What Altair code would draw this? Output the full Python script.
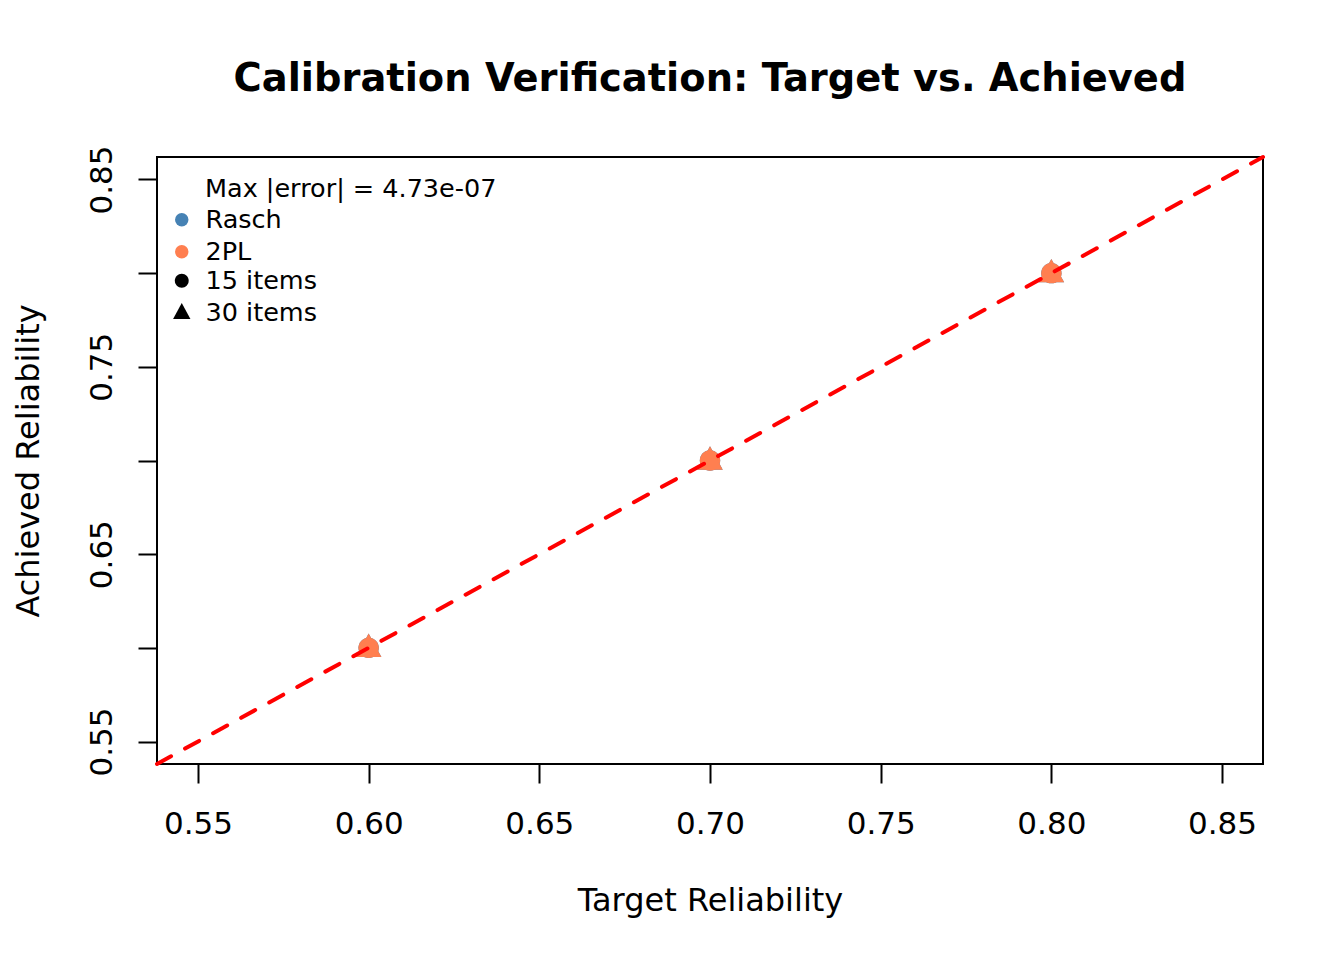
import altair as alt
import pandas as pd

# ---- data ----
model = ["Rasch", "Rasch", "Rasch", "Rasch", "Rasch", "Rasch",
         "2PL", "2PL", "2PL", "2PL", "2PL", "2PL"]
items = ["15 items", "15 items", "15 items", "30 items", "30 items", "30 items",
         "15 items", "15 items", "15 items", "30 items", "30 items", "30 items"]
target = [0.60, 0.70, 0.80, 0.60, 0.70, 0.80,
          0.60, 0.70, 0.80, 0.60, 0.70, 0.80]
achieved = [0.60, 0.70, 0.80, 0.60, 0.70, 0.80,
            0.60, 0.70, 0.80, 0.60, 0.70, 0.80]
order = list(range(len(model)))

model_levels = ["Rasch", "2PL"]
model_colors = ["#4682B4", "#FF7F50"]
item_levels = ["15 items", "30 items"]
# R-like pch 16 (filled circle) and pch 17 (filled triangle), as unit symbol paths
CIRCLE = "M-0.8,0A0.8,0.8 0 1,0 0.8,0A0.8,0.8 0 1,0 -0.8,0Z"
TRIANGLE = "M0,-1.12L1,0.72L-1,0.72Z"
item_shapes = [CIRCLE, TRIANGLE]

axis_domain = [0.538, 0.862]
tick_vals = [0.55, 0.60, 0.65, 0.70, 0.75, 0.80, 0.85]
max_error = 4.73e-07

title_text = "Calibration Verification: Target vs. Achieved"
x_title = "Target Reliability"
y_title = "Achieved Reliability"

df = pd.DataFrame({"model": model, "items": items, "target": target,
                   "achieved": achieved, "order": order})
diag = pd.DataFrame({"x": axis_domain, "y": axis_domain})

FONT = "DejaVu Sans"
W, H = 1106, 607

xscale = alt.Scale(domain=axis_domain, nice=False, zero=False)
yscale = alt.Scale(domain=axis_domain, nice=False, zero=False)

xaxis = alt.Axis(values=tick_vals, format=".2f", title=x_title, grid=False, domain=False,
                 tickSize=19, tickWidth=2, tickColor="black",
                 labelFontSize=31, labelFont=FONT, labelColor="black",
                 labelBaseline="alphabetic", labelPadding=50, labelFlush=False,
                 titleFontSize=32, titleFont=FONT, titleFontWeight="normal", titleColor="black",
                 titleBaseline="alphabetic", titleY=146, titleX=W / 2)
yaxis = alt.Axis(values=tick_vals, format=".2f", title=y_title, grid=False, domain=False,
                 tickSize=19, tickWidth=2, tickColor="black",
                 labelFontSize=31, labelFont=FONT, labelColor="black",
                 labelAngle=270, labelAlign="center", labelBaseline="alphabetic",
                 labelPadding=27, labelFlush=False,
                 labelExpr="(round(datum.value*100) % 10 == 5) ? datum.label : ''",
                 titleFontSize=32, titleFont=FONT, titleFontWeight="normal", titleColor="black",
                 titleAngle=270, titleBaseline="alphabetic", titleX=-119, titleY=H / 2)

points = alt.Chart(df).mark_point(filled=True, opacity=1, strokeWidth=0, size=650).encode(
    x=alt.X("target:Q", scale=xscale, axis=xaxis),
    y=alt.Y("achieved:Q", scale=yscale, axis=yaxis),
    color=alt.Color("model:N", scale=alt.Scale(domain=model_levels, range=model_colors),
                    legend=alt.Legend(title=None, orient="none", legendX=12, legendY=50,
                                      symbolType="circle", symbolSize=180)),
    shape=alt.Shape("items:N", scale=alt.Scale(domain=item_levels, range=item_shapes),
                    legend=alt.Legend(title=None, orient="none", legendX=12, legendY=111,
                                      symbolSize=300,
                                      symbolFillColor="black", symbolStrokeColor="black")),
    order=alt.Order("order:Q"),
)

line = alt.Chart(diag).mark_line(color="red", strokeWidth=4, strokeDash=[16, 16],
                                 strokeCap="round").encode(
    x=alt.X("x:Q", scale=xscale),
    y=alt.Y("y:Q", scale=yscale),
)

note = alt.Chart(pd.DataFrame({"t": [f"Max |error| = {max_error:.2e}"]})).mark_text(
    align="left", baseline="alphabetic", fontSize=25.5, font=FONT, color="black"
).encode(x=alt.value(48), y=alt.value(39.5), text="t:N")

chart = alt.layer(points, line, note).properties(
    width=W, height=H,
    background="white",
    title=alt.Title(title_text, fontSize=38.4, fontWeight="bold", font=FONT, color="black",
                    anchor="middle", baseline="alphabetic", offset=16, frame="group"),
    autosize=alt.AutoSizeParams(type="none"),
    padding={"left": 149, "top": 149, "right": 73, "bottom": 188},
).configure_view(stroke="black", strokeWidth=2).configure_legend(
    labelFont=FONT, labelFontSize=25.5, labelColor="black",
    labelOffset=11, rowPadding=5, padding=0, symbolStrokeWidth=0,
)

chart.save("out.html", embed_options={"renderer": "svg", "actions": False})
